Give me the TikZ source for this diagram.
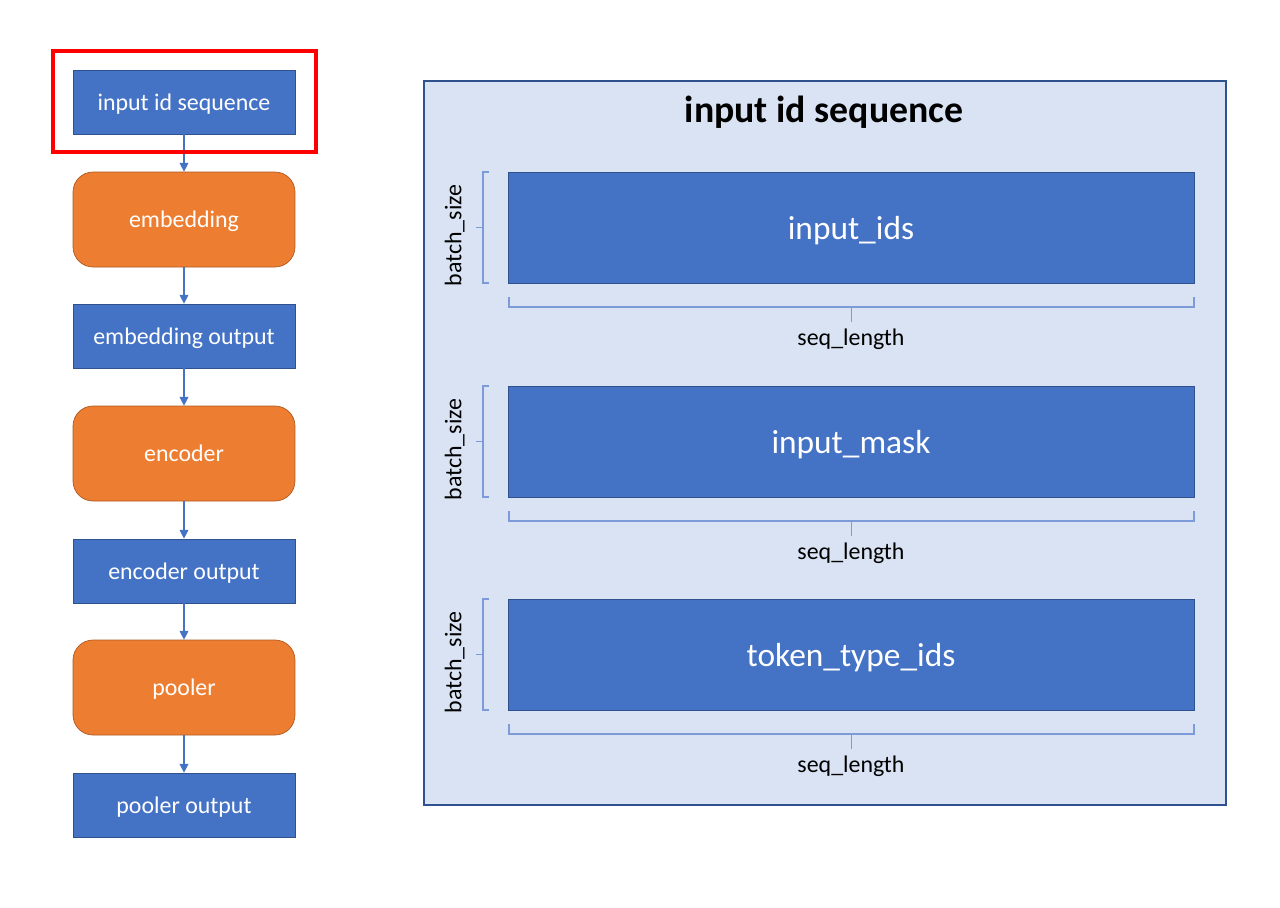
\documentclass[tikz,border=0pt]{standalone}
\usepackage{fontspec}
\setmainfont{Carlito}
\usepackage{xcolor}
\usetikzlibrary{arrows.meta}

\definecolor{boxblue}{HTML}{4472C4}
\definecolor{boxline}{HTML}{2F528F}
\definecolor{layerorange}{HTML}{ED7D31}
\definecolor{layerline}{HTML}{AE5A21}
\definecolor{panelfill}{HTML}{DAE3F3}
\definecolor{bracecol}{HTML}{7C9BD8}

\tikzset{
	datanode/.style={rectangle, fill=boxblue, draw=boxline, text=white,
		minimum width=4.44cm, minimum height=1.28cm, inner sep=0pt, text depth=0pt,
		font=\fontsize{13.6}{16}\selectfont},
	layernode/.style={datanode, fill=layerorange, draw=layerline,
		rounded corners=0.4cm, minimum height=1.9cm},
	tensor/.style={rectangle, fill=boxblue, draw=boxline, text=white,
		minimum width=13.72cm, minimum height=2.22cm, inner sep=0pt, text depth=0pt,
		font=\fontsize{19}{22}\selectfont},
	flow/.style={draw=boxblue, line width=0.6pt, -{Triangle[width=5pt,length=5pt]}},
	brace/.style={draw=bracecol, line width=0.7pt},
	dimlabel/.style={text depth=0pt, font=\fontsize{13.6}{16}\selectfont}
}

\begin{document}
\begin{tikzpicture}[x=0.02cm, y=-0.02cm]
	\useasboundingbox (0, 0) rectangle (1280, 907);

	% left column
	\node[datanode]  (seq)    at (184, 102)   {input id sequence};
	\node[layernode] (emb)    at (184, 219.5) {embedding};
	\node[datanode]  (embout) at (184, 336)   {embedding output};
	\node[layernode] (enc)    at (184, 453.5) {encoder};
	\node[datanode]  (encout) at (184, 571)   {encoder output};
	\node[layernode] (pool)   at (184, 687.5) {pooler};
	\node[datanode]  (poolout) at (184, 805)  {pooler output};

	\draw[flow] (seq) -- (emb);
	\draw[flow] (emb) -- (embout);
	\draw[flow] (embout) -- (enc);
	\draw[flow] (enc) -- (encout);
	\draw[flow] (encout) -- (pool);
	\draw[flow] (pool) -- (poolout);

	\draw[red, line width=1.8pt] (53, 51) rectangle (316, 152);

	% right panel
	\draw[fill=panelfill, draw=boxline, line width=0.6pt] (424, 81) rectangle (1226, 805);
	\node[text depth=0pt, font=\bfseries\fontsize{21.5}{25}\selectfont] (title) at (824, 109) {input id sequence};

	\foreach \y/\name/\txt in {227.5/ids/input\_ids, 441.5/mask/input\_mask, 654.5/type/token\_type\_ids} {
		\node[tensor] (\name) at (851, \y) {\txt};
		\draw[brace] (489, \y-55.5) -- (483, \y-55.5) -- (483, \y+55.5) -- (489, \y+55.5);
		\draw[brace] (483, \y) -- (476, \y);
		\node[dimlabel, rotate=90] at (453, \y+8) {batch\_size};
		\draw[brace] (509, \y+69.5) -- (509, \y+79.5) -- (1194, \y+79.5) -- (1194, \y+69.5);
		\draw[brace] (851.5, \y+79.5) -- (851.5, \y+94);
		\node[dimlabel] at (851, \y+110) {seq\_length};
	}
\end{tikzpicture}
\end{document}
